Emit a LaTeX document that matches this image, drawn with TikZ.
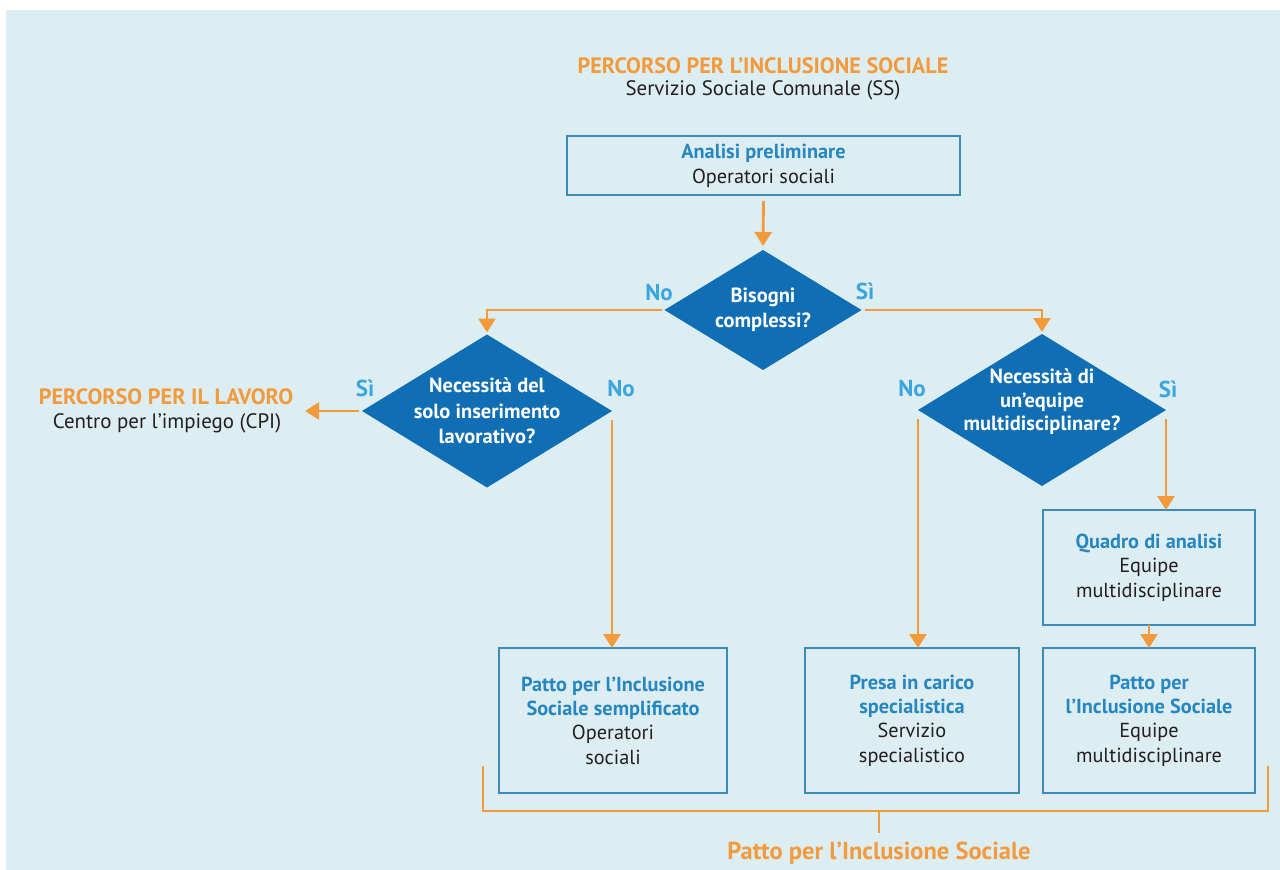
\documentclass[tikz,border=0pt]{standalone}
\usepackage{fontspec}
\setmainfont{PT Sans}
\usetikzlibrary{shapes.geometric,arrows.meta}
\definecolor{bgc}{RGB}{221,238,243}
\definecolor{orng}{RGB}{243,154,60}
\definecolor{dblue}{RGB}{16,110,180}
\definecolor{boxc}{RGB}{62,140,182}
\definecolor{hblue}{RGB}{38,134,192}
\definecolor{lblue}{RGB}{60,166,220}
\definecolor{txt}{RGB}{35,31,32}
\newcommand{\hb}[1]{\textcolor{hblue}{\bfseries #1}}
\begin{document}
\begin{tikzpicture}[x=1pt,y=-1pt,
  every node/.style={inner sep=0pt, outer sep=0pt, text=txt},
  boxnode/.style={draw=boxc, line width=1.4pt, align=center, font=\fontsize{20.3}{24.4}\selectfont},
  dia/.style={diamond, fill=dblue, draw=none, inner sep=0pt},
  dtext/.style={align=center, text=white, font=\bfseries\fontsize{20.5}{25.5}\selectfont},
  yn/.style={text=lblue, font=\bfseries\fontsize{23}{25}\selectfont},
  ttl/.style={text=orng, font=\bfseries\fontsize{22.2}{25}\selectfont},
  sub/.style={font=\fontsize{20.9}{24}\selectfont},
  arr/.style={draw=orng, line width=2.8pt, -{Triangle[width=17pt,length=14pt]}},
  ln/.style={draw=orng, line width=2.8pt}
]
\useasboundingbox (0,0) rectangle (1280,870);
\fill[white] (0,0) rectangle (1280,870);
\fill[bgc] (6,10) rectangle (1280,870);

% titles
\node[ttl] (t1) at (763,66) {PERCORSO PER L’INCLUSIONE SOCIALE};
\node[sub] (t2) at (763,90) {Servizio Sociale Comunale (SS)};

% box 1
\node[boxnode, minimum width=393pt, minimum height=59pt, font=\fontsize{20.3}{25}\selectfont] (b1) at (763.5,165.5)
  {\hb{Analisi preliminare}\\Operatori sociali};

% diamonds
\node[dia, minimum width=197pt, minimum height=120pt] (d1) at (763,310) {};
\node[dtext] (d1t) at (763,310) {Bisogni\\complessi?};
\node[dia, minimum width=250pt, minimum height=153pt] (d2) at (487,411) {};
\node[dtext] (d2t) at (487,411) {Necessità del\\solo inserimento\\lavorativo?};
\node[dia, minimum width=248pt, minimum height=152pt] (d3) at (1042,410) {};
\node[dtext, font=\bfseries\fontsize{20.5}{23.5}\selectfont] (d3t) at (1042,402) {Necessità di\\un’equipe\\multidisciplinare?};

% yes/no labels
\node[yn] (n1) at (659,293) {No};
\node[yn] (s1) at (865,291) {Sì};
\node[yn] (s2) at (365,388) {Sì};
\node[yn] (n2) at (621,389) {No};
\node[yn] (n3) at (912,389) {No};
\node[yn] (s3) at (1168,389) {Sì};

% left outcome
\node[ttl] (lav1) at (166,397) {PERCORSO PER IL LAVORO};
\node[sub] (lav2) at (167,423) {Centro per l’impiego (CPI)};
\coordinate (lavtip) at (305,411);

% bottom boxes
\node[boxnode, minimum width=228pt, minimum height=145pt] (b2) at (613,720.5)
  {\hb{Patto per l’Inclusione}\\\hb{Sociale semplificato}\\Operatori\\sociali};
\node[boxnode, minimum width=214pt, minimum height=145pt] (b3) at (912,720.5)
  {\hb{Presa in carico}\\\hb{specialistica}\\Servizio\\specialistico};
\node[boxnode, minimum width=212pt, minimum height=115pt] (b4) at (1149,567.5)
  {\hb{Quadro di analisi}\\Equipe\\multidisciplinare};
\node[boxnode, minimum width=212pt, minimum height=145pt] (b5) at (1149,720.5)
  {\hb{Patto per}\\\hb{l’Inclusione Sociale}\\Equipe\\multidisciplinare};

% connectors
\draw[arr] ([yshift=-6pt]b1.south) -- ([yshift=4pt]d1.north);
\draw[arr] ([xshift=-3pt]d1.west) -| ([yshift=2pt]d2.north);
\draw[arr] ([xshift=3pt]d1.east) -| ([yshift=2pt]d3.north);
\draw[arr] ([xshift=-3pt]d2.west) -- (lavtip);
\draw[arr] ([yshift=-9pt]d2.east) -- (d2.east |- b2.north);
\draw[arr] ([yshift=-9pt]d3.west) -- (d3.west |- b3.north);
\draw[arr] ([yshift=-9pt]d3.east) -- (d3.east |- b4.north);
\draw[arr] (b4.south) -- (b5.north);

% bracket
\coordinate (bl) at (483,766);
\coordinate (blb) at (483,811);
\coordinate (brb) at (1268,811);
\coordinate (brr) at (1268,766);
\coordinate (tk) at (879,811);
\node[ttl, font=\bfseries\fontsize{24.5}{26}\selectfont] (patto) at (879,853) {Patto per l’Inclusione Sociale};
\draw[ln, line cap=butt, line join=miter] (bl) -- (blb) -- (brb) -- (brr);
\draw[ln] (tk) -- ([yshift=9pt]patto.north);
\end{tikzpicture}
\end{document}
